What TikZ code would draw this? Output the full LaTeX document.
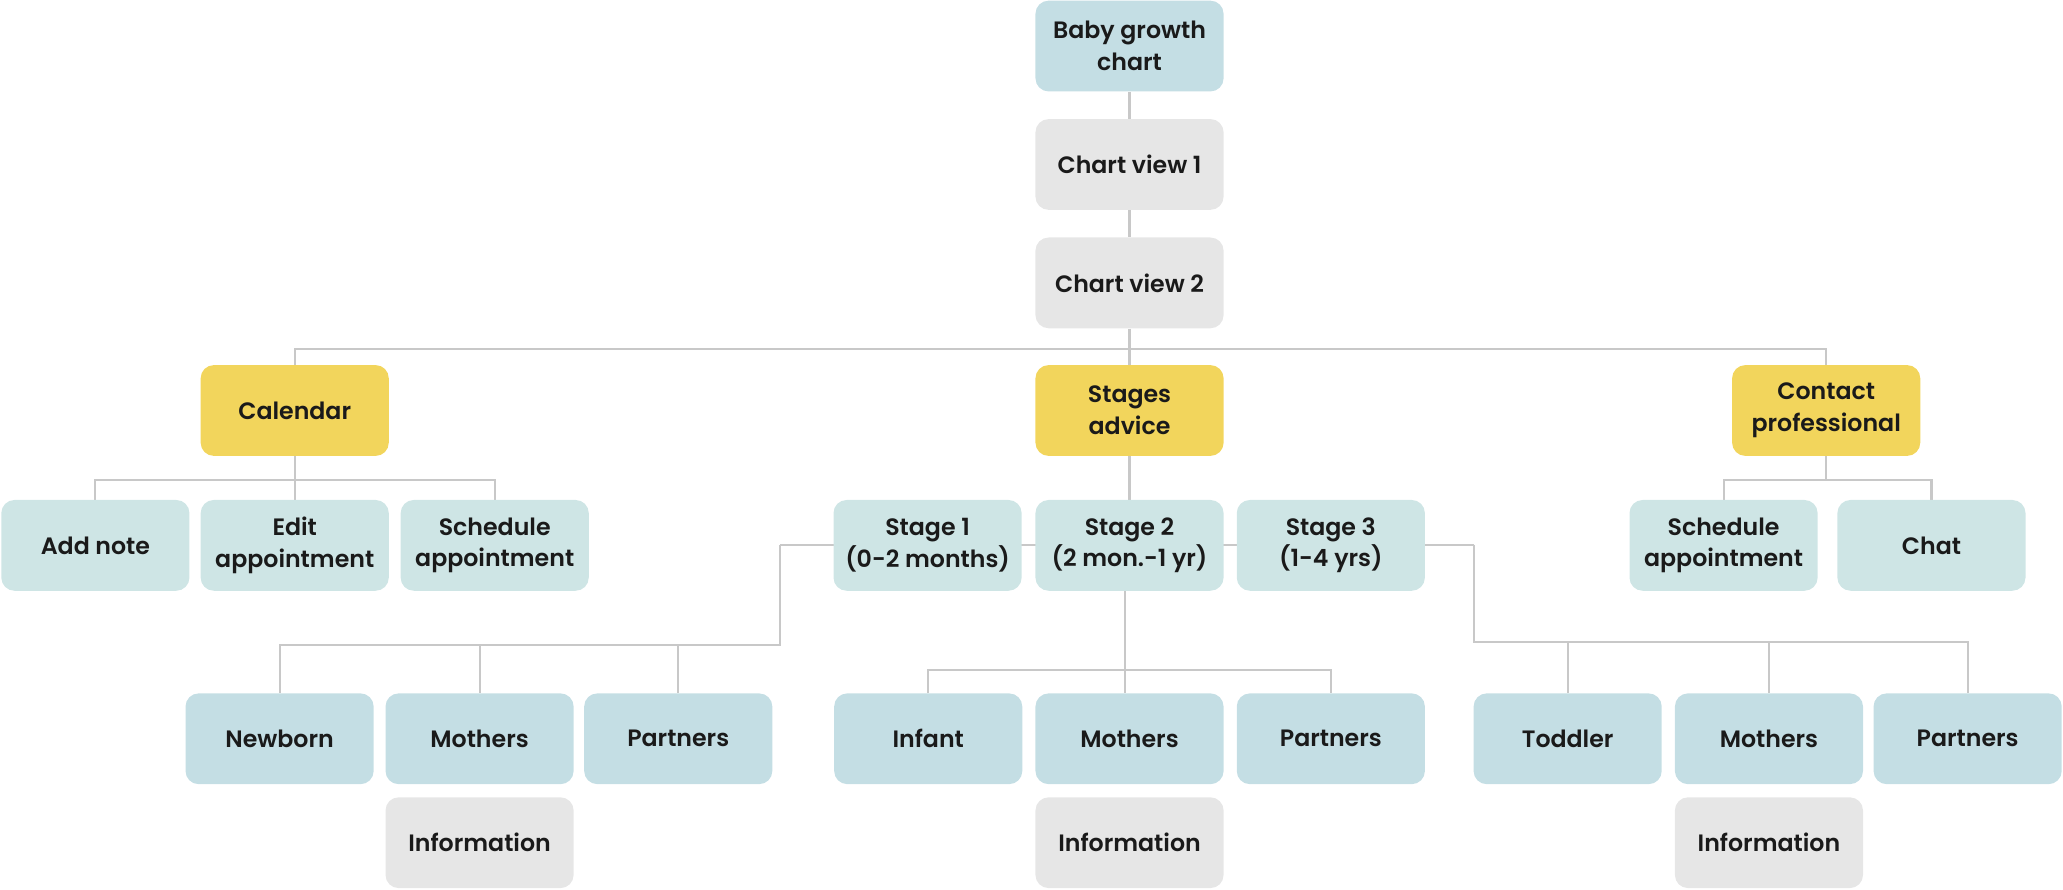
\documentclass[tikz,border=0pt]{standalone}
\usepackage{fontspec}
\setmainfont{Poppins}[BoldFont={Poppins SemiBold}]
\usetikzlibrary{backgrounds}
\definecolor{bluebox}{HTML}{C4DEE4}
\definecolor{tealbox}{HTML}{CEE5E5}
\definecolor{yellowbox}{HTML}{F2D55C}
\definecolor{graybox}{HTML}{E6E6E6}
\definecolor{linegray}{HTML}{C8C8C8}
\definecolor{txt}{HTML}{1A1A1A}
\begin{document}
\begin{tikzpicture}[x=1pt,y=-1pt,
  box/.style={rounded corners=10pt, minimum width=143pt, minimum height=69pt,
    inner sep=0pt, align=center, text=txt,
    font=\fontsize{18}{24}\selectfont\bfseries},
  bluen/.style={box, fill=bluebox},
  tealn/.style={box, fill=tealbox},
  yellown/.style={box, fill=yellowbox},
  grayn/.style={box, fill=graybox},
  conn/.style={draw=linegray, line width=1.6pt}]
\useasboundingbox (0,0) rectangle (1568,675.7);
% level 0-2
\node[bluen] (top) at (858.5,35) {Baby growth\\chart};
\node[grayn] (cv1) at (858.5,125) {Chart view 1};
\node[grayn] (cv2) at (858.5,215) {Chart view 2};
% level 3
\node[yellown] (cal) at (224,312) {Calendar};
\node[yellown] (stg) at (858.5,312) {Stages\\advice};
\node[yellown] (con) at (1388,312) {Contact\\professional};
% level 4
\node[tealn] (add) at (72.5,414.5) {Add note};
\node[tealn] (edit) at (224,414.5) {Edit\\appointment};
\node[tealn] (schA) at (376,414.5) {Schedule\\appointment};
\node[tealn] (s1) at (705,414.5) {Stage 1\\(0-2 months)};
\node[tealn] (s2) at (858.5,414.5) {Stage 2\\(2 mon.-1 yr)};
\node[tealn] (s3) at (1011.5,414.5) {Stage 3\\(1-4 yrs)};
\node[tealn] (schB) at (1310,414.5) {Schedule\\appointment};
\node[tealn] (chat) at (1468,414.5) {Chat};
% level 5
\node[bluen] (newborn) at (212.5,561.5) {Newborn};
\node[bluen] (mothA) at (364.5,561.5) {Mothers};
\node[bluen] (partA) at (515.5,561.5) {Partners};
\node[bluen] (infant) at (705.5,561.5) {Infant};
\node[bluen] (mothB) at (858.5,561.5) {Mothers};
\node[bluen] (partB) at (1011.5,561.5) {Partners};
\node[bluen] (toddler) at (1191.5,561.5) {Toddler};
\node[bluen] (mothC) at (1344.5,561.5) {Mothers};
\node[bluen] (partC) at (1495.5,561.5) {Partners};
% level 6
\node[grayn] (infoA) at (364.5,640.5) {Information};
\node[grayn] (infoB) at (858.5,640.5) {Information};
\node[grayn] (infoC) at (1344.5,640.5) {Information};
% junction coordinates
\coordinate (j1L) at (593,414);
\coordinate (j1B) at (593,490);
\coordinate (j3R) at (1120,414);
\coordinate (j3B) at (1120,488);
\begin{scope}[on background layer]
  \draw[conn] (top.south) -- (cv1.north);
  \draw[conn] (cv1.south) -- (cv2.north);
  \draw[conn] (cv2.south) -- (858.5,265);
  \draw[conn] (cal.north) -- (224,265) -- (con.north |- 0,265) -- (con.north);
  \draw[conn] (858.5,265) -- (stg.north);
  % calendar children
  \draw[conn] (cal.south) -- (224,365);
  \draw[conn] (add.north) -- (add.north |- 0,365) -- (schA.north |- 0,365) -- (schA.north);
  \draw[conn] (224,365) -- (edit.north);
  % stages
  \draw[conn] (stg.south) -- (s2.north);
  \draw[conn] (j1L) -- (j3R);
  % stage 1 children
  \draw[conn] (j1L) -- (j1B) -- (newborn.north |- j1B) -- (newborn.north);
  \draw[conn] (mothA.north |- j1B) -- (mothA.north);
  \draw[conn] (partA.north |- j1B) -- (partA.north);
  % stage 2 children
  \draw[conn] (855,449) -- (855,527);
  \draw[conn] (infant.north) -- (infant.north |- 0,509) -- (partB.north |- 0,509) -- (partB.north);
  % stage 3 children
  \draw[conn] (j3R) -- (j3B) -- (partC.north |- j3B) -- (partC.north);
  \draw[conn] (toddler.north |- j3B) -- (toddler.north);
  \draw[conn] (mothC.north |- j3B) -- (mothC.north);
  % contact children
  \draw[conn] (con.south) -- (1388,365);
  \draw[conn] (schB.north) -- (schB.north |- 0,365) -- (chat.north |- 0,365) -- (chat.north);
\end{scope}
\end{tikzpicture}
\end{document}
